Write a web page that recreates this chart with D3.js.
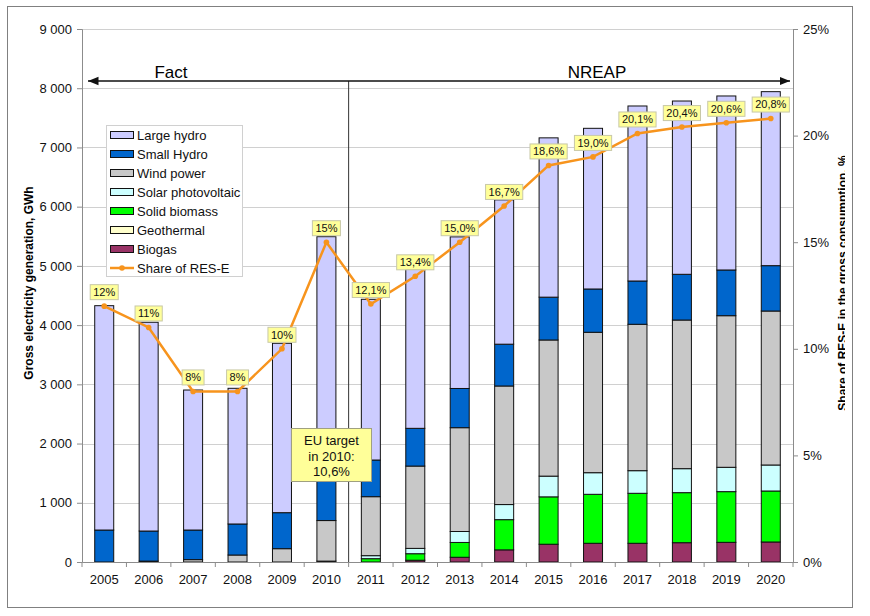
<!DOCTYPE html>
<head>
  <meta charset="utf-8">
  <script src="https://cdn.jsdelivr.net/npm/d3@7"></script>
  <style>
    body { margin: 0; background: #fff; }
    text { font-family: "Liberation Sans", Arial, sans-serif; }
  </style>
</head>
<body>

<svg width="870" height="616"></svg>

<script type="text/javascript">
// Data (GWh), stacked from the bottom up
var years = ["2005","2006","2007","2008","2009","2010","2011","2012","2013","2014","2015","2016","2017","2018","2019","2020"];
var biogas     = [0, 0, 0, 0, 0, 15, 0, 30, 80, 205, 300, 316, 316, 326, 332, 338];
var geothermal = [0, 0, 0, 0, 0, 0, 0, 0, 0, 0, 0, 0, 0, 0, 0, 0];
var biomass    = [0, 0, 0, 0, 0, 0, 56, 110, 250, 510, 800, 827, 844, 845, 856, 861];
var solar      = [0, 0, 0, 0, 0, 0, 51, 90, 185, 255, 350, 365, 382, 405, 411, 439];
var wind       = [0, 15, 40, 118, 225, 685, 996, 1390, 1753, 2002, 2299, 2371, 2472, 2510, 2560, 2600];
var smallHydro = [540, 508, 500, 524, 608, 700, 619, 637, 662, 706, 723, 731, 731, 772, 772, 766];
var largeHydro = [3788, 3525, 2364, 2291, 2860, 4093, 2714, 2686, 2560, 2437, 2690, 2713, 2955, 2926, 2938, 2938];

// Share of RES-E (%) and its data labels
var share = [12, 11, 8, 8, 10, 15, 12.1, 13.4, 15.0, 16.7, 18.6, 19.0, 20.1, 20.4, 20.6, 20.8];
var shareLabels = ["12%","11%","8%","8%","10%","15%","12,1%","13,4%","15,0%","16,7%","18,6%","19,0%","20,1%","20,4%","20,6%","20,8%"];

var yTicks = [0, 1000, 2000, 3000, 4000, 5000, 6000, 7000, 8000, 9000];
var y2Ticks = [0, 0.05, 0.10, 0.15, 0.20, 0.25];

var seriesNames  = ["Biogas", "Geothermal", "Solid biomass", "Solar photovoltaic", "Wind power", "Small Hydro", "Large hydro"];
var seriesValues = [biogas, geothermal, biomass, solar, wind, smallHydro, largeHydro];
var seriesColors = ["#993366", "#ffffcc", "#00ff00", "#ccffff", "#c8c8c8", "#0066cc", "#ccccff"];

// Layout (note: "top" is taken by window.top, so plot edges get their own names)
var plotL = 82, plotR = 793, plotT = 29, plotB = 562;
var barW = 19;
var orange = "#f7941d";

var svg = d3.select("svg");

// outer frame
svg.append("rect")
  .attr("x", 7.5).attr("y", 6.5).attr("width", 845).attr("height", 601)
  .attr("fill", "#fff").attr("stroke", "#808080");

var x = d3.scaleBand().domain(years).range([plotL, plotR]);
var y = d3.scaleLinear().domain([0, 9000]).range([plotB, plotT]);
var y2 = d3.scaleLinear().domain([0, 0.25]).range([plotB, plotT]);

var locale = d3.formatLocale({ decimal: ",", thousands: " ", grouping: [3], currency: ["", ""] });
var fmt = locale.format(",d");

// gridlines
svg.append("g").selectAll("line")
  .data(yTicks.slice(1))
  .enter().append("line")
  .attr("x1", plotL).attr("x2", plotR)
  .attr("y1", function(d) { return Math.round(y(d)) + 0.5; })
  .attr("y2", function(d) { return Math.round(y(d)) + 0.5; })
  .attr("stroke", "#d0d0d0");

// stacked bars
var rows = years.map(function(yr, i) {
  var r = { year: yr };
  seriesNames.forEach(function(n, k) { r[n] = seriesValues[k][i]; });
  return r;
});
var stack = d3.stack().keys(seriesNames)(rows);

svg.append("g").selectAll("g")
  .data(stack)
  .enter().append("g")
  .attr("fill", function(d, k) { return seriesColors[k]; })
  .selectAll("rect")
  .data(function(d) { return d.filter(function(p) { return p[1] - p[0] > 0; }); })
  .enter().append("rect")
  .attr("x", function(d) { return x(d.data.year) + (x.bandwidth() - barW) / 2; })
  .attr("y", function(d) { return y(d[1]); })
  .attr("width", barW)
  .attr("height", function(d) { return y(d[0]) - y(d[1]); })
  .attr("stroke", "#111")
  .attr("stroke-width", 1);

// axes
var gy = svg.append("g").attr("transform", "translate(" + plotL + ",0)")
  .call(d3.axisLeft(y).tickValues(yTicks).tickSize(5).tickPadding(5).tickFormat(fmt));
var gy2 = svg.append("g").attr("transform", "translate(" + plotR + ",0)")
  .call(d3.axisRight(y2).tickValues(y2Ticks).tickSize(5).tickPadding(5).tickFormat(d3.format(".0%")));
var gx = svg.append("g").attr("transform", "translate(0," + plotB + ")")
  .call(d3.axisBottom(x).tickSize(0).tickPadding(13));

[gy, gy2, gx].forEach(function(g) {
  g.select(".domain").attr("stroke", "#8c8c8c");
  g.selectAll(".tick line").attr("stroke", "#8c8c8c");
  g.selectAll("text").attr("font-size", 13).attr("fill", "#111")
    .attr("font-family", "Liberation Sans, Arial, sans-serif");
});

// x tick marks on category boundaries
svg.append("g").selectAll("line")
  .data(years.concat(["end"]))
  .enter().append("line")
  .attr("x1", function(d, i) { return plotL + i * x.bandwidth(); })
  .attr("x2", function(d, i) { return plotL + i * x.bandwidth(); })
  .attr("y1", plotB).attr("y2", plotB + 5)
  .attr("stroke", "#8c8c8c");

// Fact / NREAP separator and arrow
var split = x("2011");
svg.append("line")
  .attr("x1", split).attr("x2", split).attr("y1", 81).attr("y2", plotB)
  .attr("stroke", "#333").attr("stroke-width", 1);

var defs = svg.append("defs");
defs.append("marker").attr("id", "ah").attr("viewBox", "0 0 10 10")
  .attr("refX", 10).attr("refY", 5).attr("markerWidth", 7).attr("markerHeight", 7)
  .attr("orient", "auto-start-reverse")
  .append("path").attr("d", "M0,1L10,5L0,9Z").attr("fill", "#111");

svg.append("line")
  .attr("x1", plotL + 6).attr("x2", plotR - 3).attr("y1", 81).attr("y2", 81)
  .attr("stroke", "#111").attr("stroke-width", 1.5)
  .attr("marker-start", "url(#ah)").attr("marker-end", "url(#ah)");

svg.append("text").attr("x", 171).attr("y", 78).attr("text-anchor", "middle")
  .attr("font-size", 17).text("Fact");
svg.append("text").attr("x", 597).attr("y", 78).attr("text-anchor", "middle")
  .attr("font-size", 17).text("NREAP");

// share line
var cx = function(i) { return x(years[i]) + x.bandwidth() / 2; };
var line = d3.line()
  .x(function(d, i) { return cx(i); })
  .y(function(d) { return y2(d / 100); });

svg.append("path").datum(share)
  .attr("d", line).attr("fill", "none")
  .attr("stroke", orange).attr("stroke-width", 2.5);

svg.append("g").selectAll("circle")
  .data(share).enter().append("circle")
  .attr("cx", function(d, i) { return cx(i); })
  .attr("cy", function(d) { return y2(d / 100); })
  .attr("r", 2.8).attr("fill", orange);

// share labels
var lab = svg.append("g").selectAll("g")
  .data(share).enter().append("g")
  .attr("transform", function(d, i) { return "translate(" + cx(i) + "," + (y2(d / 100) - 14) + ")"; });
lab.append("rect").attr("class", "lb");
lab.append("text")
  .attr("text-anchor", "middle").attr("dy", "0.35em")
  .attr("font-size", 11).attr("fill", "#111")
  .text(function(d, i) { return shareLabels[i]; });
lab.each(function() {
  var g = d3.select(this);
  var w = g.select("text").node().getComputedTextLength() + 6;
  g.select("rect").attr("x", -w / 2).attr("y", -7.5).attr("width", w).attr("height", 15)
    .attr("fill", "#ffff99").attr("stroke", "#c8c8a8");
});

// EU target note
svg.append("rect")
  .attr("x", 291.5).attr("y", 428.5).attr("width", 80).attr("height", 53)
  .attr("fill", "#ffff99").attr("stroke", "#a0a080");
["EU target", "in 2010:", "10,6%"].forEach(function(t, i) {
  svg.append("text").attr("x", 331.5).attr("y", 445 + i * 15.5)
    .attr("text-anchor", "middle").attr("font-size", 13).attr("fill", "#111").text(t);
});

// legend
var legNames = ["Large hydro", "Small Hydro", "Wind power", "Solar photovoltaic", "Solid biomass", "Geothermal", "Biogas"];
var leg = svg.append("g");
leg.append("rect").attr("x", 106.5).attr("y", 125.5).attr("width", 136).attr("height", 151)
  .attr("fill", "#fff").attr("stroke", "#d0d0d0");
legNames.forEach(function(n, i) {
  var k = seriesNames.indexOf(n);
  var yy = 135 + i * 19;
  leg.append("rect").attr("x", 110.5).attr("y", yy - 3.5).attr("width", 23).attr("height", 7)
    .attr("fill", seriesColors[k]).attr("stroke", "#111");
  leg.append("text").attr("x", 137).attr("y", yy).attr("dy", "0.35em")
    .attr("font-size", 13).attr("fill", "#111").text(n);
});
var ly = 135 + 7 * 19;
leg.append("line").attr("x1", 110).attr("x2", 134).attr("y1", ly).attr("y2", ly)
  .attr("stroke", orange).attr("stroke-width", 2.5);
leg.append("circle").attr("cx", 122).attr("cy", ly).attr("r", 2.8).attr("fill", orange);
leg.append("text").attr("x", 137).attr("y", ly).attr("dy", "0.35em")
  .attr("font-size", 13).attr("fill", "#111").text("Share of RES-E");

// axis titles
svg.append("text")
  .attr("transform", "translate(33,283) rotate(-90)")
  .attr("text-anchor", "middle").attr("font-size", 12).attr("font-weight", "bold")
  .text("Gross electricity generation, GWh");

// the right title is cut off by the chart edge in the original
defs.append("clipPath").attr("id", "clipR")
  .append("rect").attr("x", 800).attr("y", 0).attr("width", 45).attr("height", 616);
svg.append("g").attr("clip-path", "url(#clipR)")
  .append("text")
  .attr("transform", "translate(847,283) rotate(-90)")
  .attr("text-anchor", "middle").attr("font-size", 12).attr("font-weight", "bold")
  .text("Share of RES-E in the gross consumption, %");
</script>
</body>
</html>
